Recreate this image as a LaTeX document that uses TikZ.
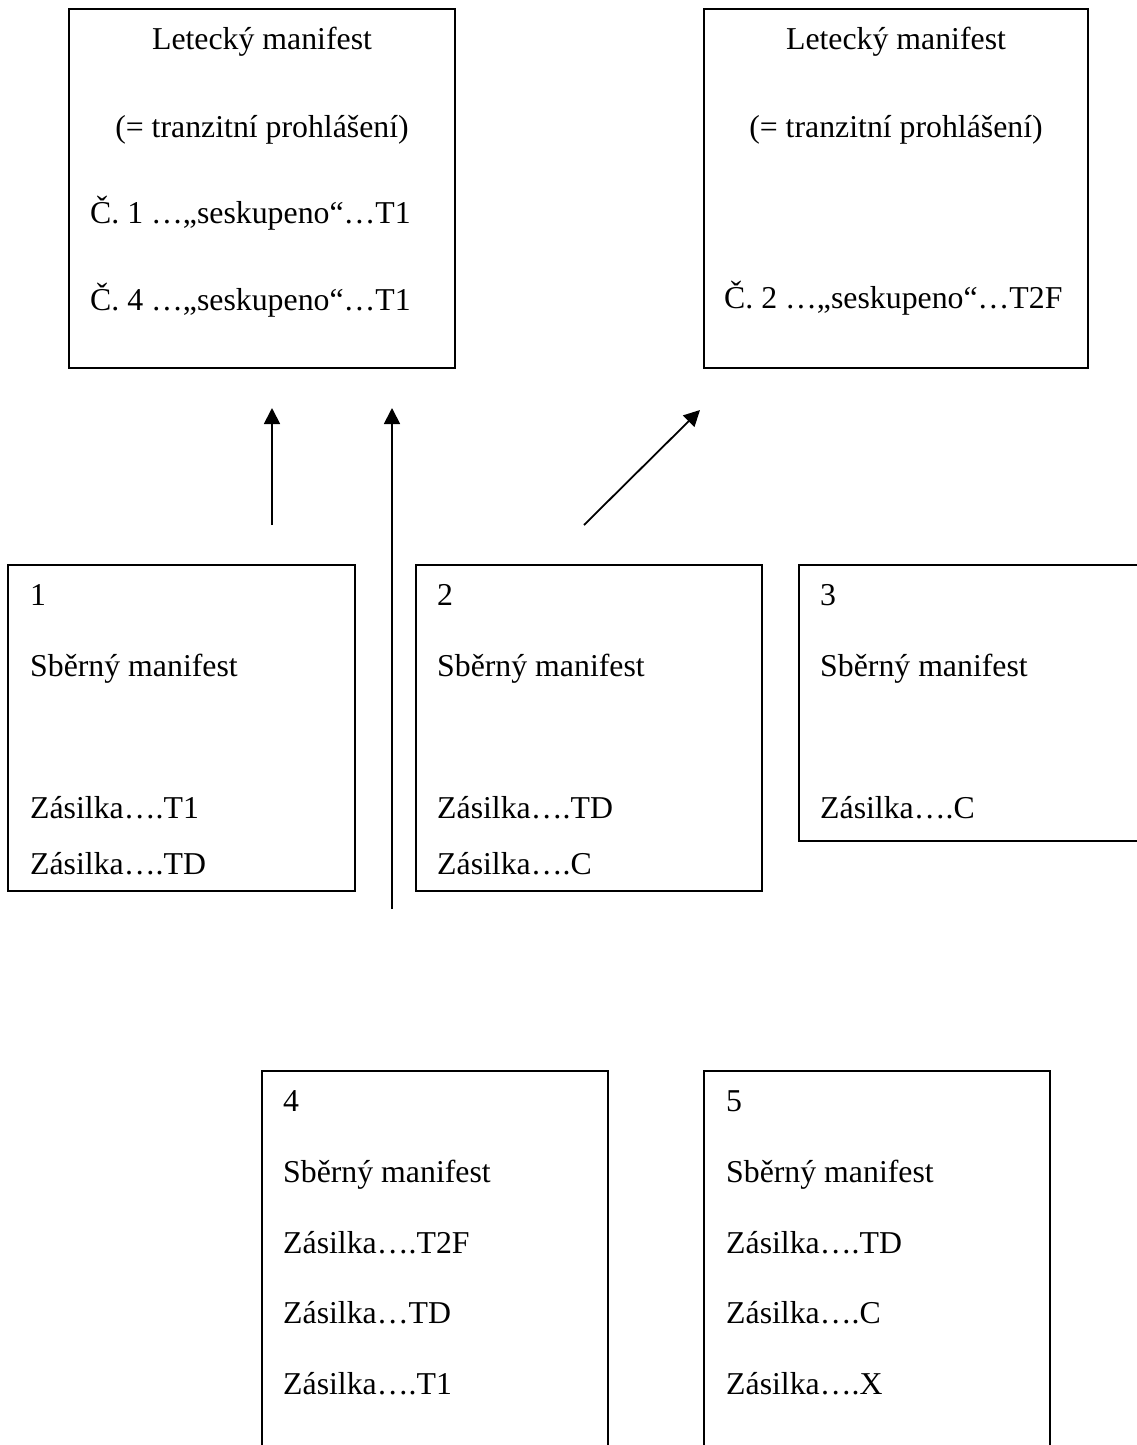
\documentclass[tikz,border=0pt]{standalone}
\usepackage{fontspec}
\setmainfont{Liberation Serif}
\usetikzlibrary{arrows.meta}
\begin{document}
\begin{tikzpicture}[x=1pt,y=-1pt,
  txt/.style={anchor=base west,inner sep=0pt,font=\fontsize{31.8}{38}\selectfont},
  ctxt/.style={anchor=base,inner sep=0pt,font=\fontsize{31.8}{38}\selectfont},
  frame/.style={draw,line width=1.8pt,line cap=rect},
  flow/.style={line width=1.8pt,-{Triangle[length=16pt,width=16pt]}}]
\useasboundingbox (0,0) rectangle (1137,1445);
\clip (0,0) rectangle (1137,1445);

% air manifests (transit declarations)
\draw[frame] (69,9) rectangle (455,368);
\node[ctxt] (am1a) at (262,50) {Letecký manifest};
\node[ctxt] (am1b) at (262,137) {(= tranzitní prohlášení)};
\node[txt]  (am1c) at (90,223) {Č. 1 …„seskupeno“…T1};
\node[txt]  (am1d) at (90,310) {Č. 4 …„seskupeno“…T1};

\draw[frame] (704,9) rectangle (1088,368);
\node[ctxt] (am2a) at (896,50) {Letecký manifest};
\node[ctxt] (am2b) at (896,137) {(= tranzitní prohlášení)};
\node[txt]  (am2c) at (724,308) {Č. 2 …„seskupeno“…T2F};

% consolidation manifests 1--3
\draw[frame] (8,565) rectangle (355,891);
\node[txt] (m1n) at (30,605) {1};
\node[txt] (m1t) at (30,676) {Sběrný manifest};
\node[txt] (m1a) at (30,818) {Zásilka….T1};
\node[txt] (m1b) at (30,874) {Zásilka….TD};

\draw[frame] (416,565) rectangle (762,891);
\node[txt] (m2n) at (437,605) {2};
\node[txt] (m2t) at (437,676) {Sběrný manifest};
\node[txt] (m2a) at (437,818) {Zásilka….TD};
\node[txt] (m2b) at (437,874) {Zásilka….C};

\draw[frame] (1150,565) -- (799,565) -- (799,841) -- (1150,841);
\node[txt] (m3n) at (820,605) {3};
\node[txt] (m3t) at (820,676) {Sběrný manifest};
\node[txt] (m3a) at (820,818) {Zásilka….C};

% consolidation manifests 4--5
\draw[frame] (262,1460) -- (262,1071) -- (608,1071) -- (608,1460);
\node[txt] (m4n) at (283,1111) {4};
\node[txt] (m4t) at (283,1182) {Sběrný manifest};
\node[txt] (m4a) at (283,1253) {Zásilka….T2F};
\node[txt] (m4b) at (283,1323) {Zásilka…TD};
\node[txt] (m4c) at (283,1394) {Zásilka….T1};

\draw[frame] (704,1460) -- (704,1071) -- (1050,1071) -- (1050,1460);
\node[txt] (m5n) at (726,1111) {5};
\node[txt] (m5t) at (726,1182) {Sběrný manifest};
\node[txt] (m5a) at (726,1253) {Zásilka….TD};
\node[txt] (m5b) at (726,1323) {Zásilka….C};
\node[txt] (m5c) at (726,1394) {Zásilka….X};

% arrows towards the air manifests
\coordinate (a1s) at (272,525);
\coordinate (a1e) at (272,408);
\coordinate (a2s) at (392,909);
\coordinate (a2e) at (392,408);
\coordinate (a3s) at (584,525);
\coordinate (a3e) at (700,410);
\draw[flow] (a1s) -- (a1e);
\draw[flow] (a2s) -- (a2e);
\draw[flow] (a3s) -- (a3e);
\end{tikzpicture}
\end{document}
